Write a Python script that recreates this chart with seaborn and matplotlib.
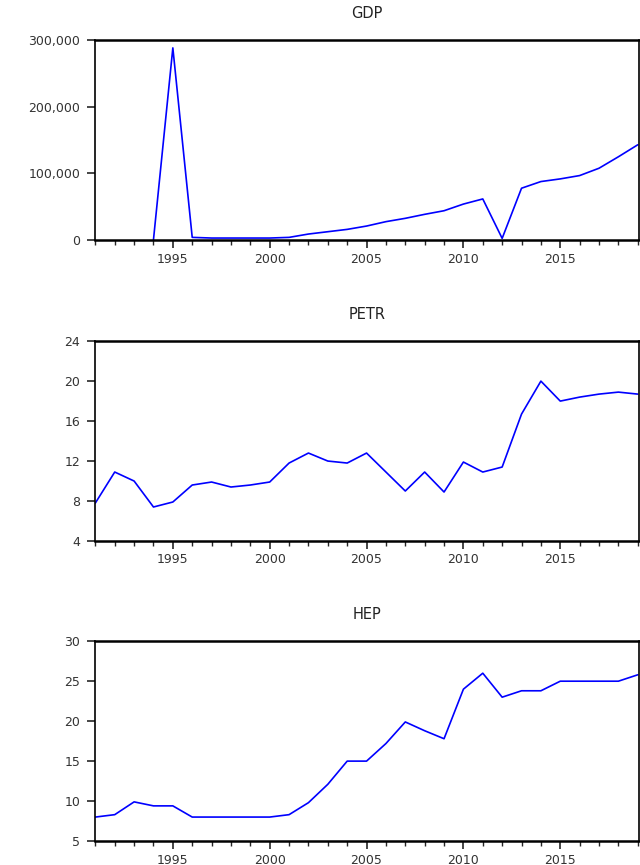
import numpy as np
import pandas as pd
import seaborn as sns
import matplotlib.pyplot as plt
from matplotlib.ticker import FuncFormatter, MultipleLocator, FixedLocator

years = list(range(1991, 2020))
gdp = [np.nan, np.nan, np.nan, 500, 288500, 4000, 3000, 3000, 3000, 3000,
       4000, 9000, 12500, 16000, 21000, 27600, 32600, 38600, 44000, 54000,
       61700, 2500, 77800, 87800, 91800, 96800, 107800, 125000, 143000]
petr = [7.8, 10.9, 10.0, 7.4, 7.9, 9.6, 9.9, 9.4, 9.6, 9.9,
        11.8, 12.8, 12.0, 11.8, 12.8, 10.9, 9.0, 10.9, 8.9, 11.9,
        10.9, 11.4, 16.7, 20.0, 18.0, 18.4, 18.7, 18.9, 18.7]
hep = [8.0, 8.3, 9.9, 9.4, 9.4, 8.0, 8.0, 8.0, 8.0, 8.0,
       8.3, 9.8, 12.1, 15.0, 15.0, 17.2, 19.9, 18.8, 17.8, 24.0,
       26.0, 23.0, 23.8, 23.8, 25.0, 25.0, 25.0, 25.0, 25.8]

year_ticks = [1995, 2000, 2005, 2010, 2015]
gdp_ticks = [0, 100000, 200000, 300000]
petr_ticks = [4, 8, 12, 16, 20, 24]
hep_ticks = [5, 10, 15, 20, 25, 30]


def main():
    sns.set_style("ticks")
    plt.rcParams["font.family"] = ["DejaVu Sans"]

    df = pd.DataFrame({"year": years, "GDP": gdp, "PETR": petr, "HEP": hep})

    fig = plt.figure(figsize=(6.4, 8.65), dpi=100)
    panels = [
        ("GDP", gdp_ticks, 0.7225, True),
        ("PETR", petr_ticks, 0.3746, False),
        ("HEP", hep_ticks, 0.0277, False),
    ]
    for name, yt, bottom, comma in panels:
        ax = fig.add_axes([0.149, bottom, 0.849, 0.231])
        sns.lineplot(data=df, x="year", y=name, ax=ax, color="#0000ff", lw=1.2)
        ax.set_xlim(1991, 2019.05)
        ax.set_ylim(yt[0], yt[-1])
        ax.yaxis.set_major_locator(FixedLocator(yt))
        ax.xaxis.set_major_locator(FixedLocator(year_ticks))
        ax.xaxis.set_minor_locator(MultipleLocator(1))
        if comma:
            ax.yaxis.set_major_formatter(FuncFormatter(lambda v, p: f"{int(v):,}"))
        ax.set_xlabel("")
        ax.set_ylabel("")
        ax.set_title(name, fontsize=10.5, pad=16, color="#222222")
        ax.tick_params(axis="both", which="major", direction="out", length=6,
                       width=1.2, labelsize=9, labelcolor="#333333", pad=5)
        ax.tick_params(axis="x", which="minor", direction="out", length=3.5, width=1.0)
        ax.tick_params(axis="x", which="major", pad=3)
        for side in ["top", "bottom"]:
            ax.spines[side].set_linewidth(1.8)
        for side in ["left", "right"]:
            ax.spines[side].set_linewidth(1.2)
        for s in ax.spines.values():
            s.set_visible(True)
            s.set_color("black")

    fig.savefig("out.png", dpi=100)


if __name__ == "__main__":
    main()
